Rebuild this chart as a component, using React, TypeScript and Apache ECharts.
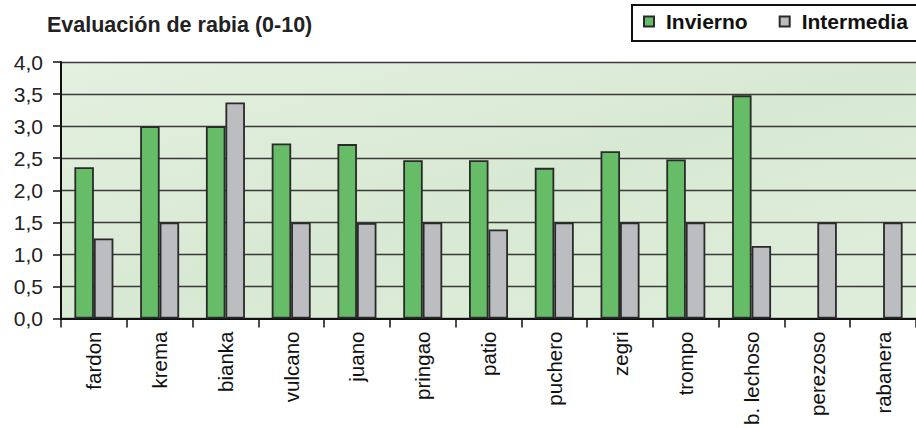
import React, { useEffect, useRef } from "react";
import * as echarts from "echarts";

const categories = ["fardon", "krema", "bianka", "vulcano", "juano", "pringao", "patio", "puchero", "zegri", "trompo", "b. lechoso", "perezoso", "rabanera"];
const invierno = [2.36, 3.0, 3.0, 2.73, 2.72, 2.47, 2.47, 2.35, 2.61, 2.48, 3.48, null, null];
const intermedia = [1.25, 1.5, 3.37, 1.5, 1.49, 1.5, 1.39, 1.5, 1.5, 1.5, 1.13, 1.5, 1.5];
const seriesNames = ["Invierno", "Intermedia"];
const titleText = "Evaluación de rabia (0-10)";

const FONT = "Arial";

export default function App() {
  const ref = useRef<HTMLDivElement>(null);
  useEffect(() => {
    if (!ref.current) return;
    const chart = echarts.init(ref.current, null, { renderer: "svg" });
    chart.setOption({
      animation: false,
      backgroundColor: "#ffffff",
      title: {
        text: titleText,
        left: 42,
        top: 9,
        textStyle: { fontFamily: FONT, fontSize: 21.5, fontWeight: "bold", color: "#222" },
      },
      graphic: [
        {
          type: "rect",
          z: 0,
          shape: { x: 632, y: 5, width: 300, height: 36 },
          style: { fill: "#ffffff", stroke: "#111", lineWidth: 2 },
        },
      ],
      legend: {
        data: seriesNames,
        left: 643,
        top: 11,
        z: 5,
        padding: 0,
        itemWidth: 10,
        itemHeight: 10,
        itemGap: 31,
        icon: "rect",
        textStyle: { fontFamily: FONT, fontSize: 21, fontWeight: "bold", color: "#111", padding: [0, 0, 0, 7] },
      },
      grid: {
        left: 61,
        top: 62,
        width: 867,
        height: 258.7,
        show: true,
        backgroundColor: new echarts.graphic.LinearGradient(0, 0, 1, 1, [
          { offset: 0, color: "#e4f0e0" },
          { offset: 0.5, color: "#d8e9d3" },
          { offset: 1, color: "#dfeedb" },
        ]),
        borderWidth: 0,
      },
      xAxis: {
        type: "category",
        data: categories,
        axisLine: { lineStyle: { color: "#111", width: 2 } },
        axisTick: { show: true, length: 9, lineStyle: { color: "#111", width: 1.5 } },
        axisLabel: {
          rotate: 90,
          margin: 13,
          interval: 0,
          fontFamily: FONT,
          fontSize: 20.5,
          color: "#111",
        },
      },
      yAxis: {
        type: "value",
        min: 0,
        max: 4,
        interval: 0.5,
        axisLine: { show: true, lineStyle: { color: "#111", width: 2 } },
        axisTick: { show: true, length: 8, lineStyle: { color: "#111", width: 1.5 } },
        axisLabel: {
          margin: 18,
          fontFamily: FONT,
          fontSize: 21,
          color: "#222",
          formatter: (v: number) => v.toFixed(1).replace(".", ","),
        },
        splitLine: { show: true, lineStyle: { color: "#3a3a3a", width: 1.3 } },
      },
      series: [
        {
          name: seriesNames[0],
          type: "bar",
          data: invierno,
          barWidth: 19.5,
          barGap: "0%",
          itemStyle: { color: "#67bd67", borderColor: "#2a2a2a", borderWidth: 1.8 },
        },
        {
          name: seriesNames[1],
          type: "bar",
          data: intermedia,
          barWidth: 19.5,
          barGap: "0%",
          itemStyle: { color: "#bcbdc1", borderColor: "#2a2a2a", borderWidth: 1.8 },
        },
      ],
    });
    return () => chart.dispose();
  }, []);
  return <div ref={ref} style={{ position: "fixed", left: 0, top: 0, width: 916, height: 428 }} />;
}
